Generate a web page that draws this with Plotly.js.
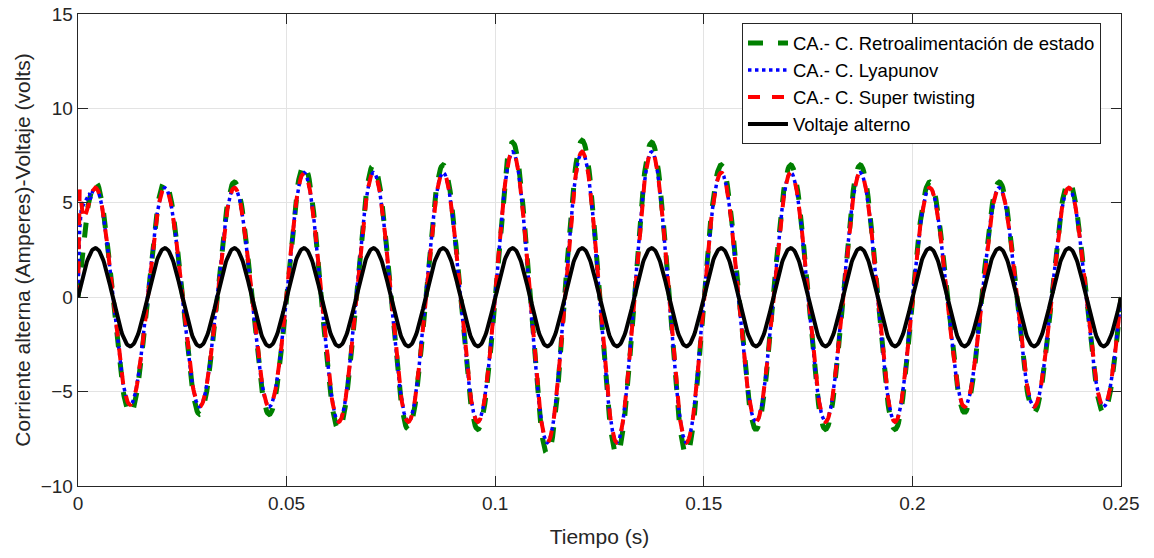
<!DOCTYPE html>
<html>
<head>
<meta charset="utf-8">
<script src="https://cdn.plot.ly/plotly-3.0.1.min.js"></script>
<style>html,body{margin:0;padding:0;background:#fff;}#chart{width:1154px;height:558px;}</style>
</head>
<body>
<div id="chart"></div>
<script>
// Grid frequency (Hz) and time span (s)
const freq = 60;
const tEnd = 0.25;

// Half-cycle peak values (alternating +, -)
const greenPeaks = [6.1,-6.15, 6.1,-6.2, 6.1,-6.2, 7.0,-7.0, 7.0,-7.0, 7.0,-7.0, 8.2,-8.3, 8.3,-8.3, 8.2,-8.3, 7.0,-7.0, 7.0,-7.0, 7.0,-7.0, 6.1,-6.1, 6.1,-6.1, 6.1,-6.1];
const bluePeaks  = [5.8,-5.7, 5.8,-5.8, 5.8,-5.8, 6.6,-6.6, 6.6,-6.6, 6.6,-6.6, 7.7,-7.7, 7.7,-7.7, 7.7,-7.7, 6.6,-6.6, 6.6,-6.6, 6.6,-6.6, 5.8,-5.8, 5.8,-5.8, 5.8,-5.8];
const redPeaks   = [5.8,-5.7, 5.8,-5.8, 5.8,-5.8, 6.6,-6.6, 6.6,-6.6, 6.6,-6.6, 7.7,-7.7, 7.7,-7.7, 7.7,-7.7, 6.6,-6.6, 6.6,-6.6, 6.6,-6.6, 5.8,-5.8, 5.8,-5.8, 5.8,-5.8];
const voltPeaks  = [2.6,-2.6, 2.6,-2.6, 2.6,-2.6, 2.6,-2.6, 2.6,-2.6, 2.6,-2.6, 2.6,-2.6, 2.6,-2.6, 2.6,-2.6, 2.6,-2.6, 2.6,-2.6, 2.6,-2.6, 2.6,-2.6, 2.6,-2.6, 2.6,-2.6];

// Start-up transient samples
const redStartT  = [0, 0.0004, 0.0008, 0.0013, 0.0020, 0.0030];
const redStartV  = [0, 5.7,    5.0,    4.1,    4.5,    5.4];
const blueStartT = [0, 0.0004, 0.0008, 0.0018, 0.0028];
const blueStartV = [0, 3.6,    4.7,    5.1,    5.5];

const names = ["CA.- C. Retroalimentación de estado", "CA.- C. Lyapunov", "CA.- C. Super twisting", "Voltaje alterno"];

const xTicks = [0, 0.05, 0.1, 0.15, 0.2, 0.25];
const xTickText = ["0", "0.05", "0.1", "0.15", "0.2", "0.25"];
const yTicks = [-10, -5, 0, 5, 10, 15];

// Each half-cycle is a sinusoidal lobe scaled to its read peak value
function wave(peaks, startT, startV) {
  const N = 40, half = 1 / (2 * freq);
  const x = [], y = [];
  let tCut = -1;
  if (startT) {
    tCut = startT[startT.length - 1];
    startT.forEach((t, i) => { x.push(t); y.push(startV[i]); });
  }
  peaks.forEach((p, i) => {
    for (let j = 0; j < N; j++) {
      const t = (i + j / N) * half;
      if (t <= tCut) continue;
      x.push(t); y.push(p * Math.sin(Math.PI * j / N));
    }
  });
  x.push(peaks.length * half); y.push(0);
  return {x, y};
}

const g = wave(greenPeaks), b = wave(bluePeaks, blueStartT, blueStartV),
      r = wave(redPeaks, redStartT, redStartV), v = wave(voltPeaks);

const traces = [
  {x: g.x, y: g.y, name: names[0], mode: 'lines', line: {color: '#008000', width: 5, dash: 'dash'}},
  {x: b.x, y: b.y, name: names[1], mode: 'lines', line: {color: '#0000ff', width: 3.5, dash: 'dot'}},
  {x: r.x, y: r.y, name: names[2], mode: 'lines', line: {color: '#ff0000', width: 4, dash: 'dash'}},
  {x: v.x, y: v.y, name: names[3], mode: 'lines', line: {color: '#000000', width: 4}}
];

const axisCommon = {
  showline: true, linecolor: '#262626', linewidth: 1.3, mirror: 'ticks',
  ticks: 'inside', ticklen: 10, tickcolor: '#262626', tickwidth: 1,
  showgrid: true, gridcolor: '#e3e3e3', gridwidth: 1, zeroline: false,
  tickfont: {family: 'Arial, Liberation Sans, sans-serif', size: 19, color: '#262626'}
};

const layout = {
  width: 1154, height: 558,
  margin: {l: 78, r: 33, t: 14, b: 72},
  paper_bgcolor: '#ffffff', plot_bgcolor: '#ffffff',
  showlegend: true,
  xaxis: Object.assign({}, axisCommon, {
    range: [0, tEnd], tickvals: xTicks, ticktext: xTickText,
    title: {text: 'Tiempo (s)', font: {family: 'Arial, Liberation Sans, sans-serif', size: 21, color: '#262626'}, standoff: 16}
  }),
  yaxis: Object.assign({}, axisCommon, {
    range: [-10, 15], tickvals: yTicks,
    title: {text: 'Corriente alterna (Amperes)-Voltaje (volts)', font: {family: 'Arial, Liberation Sans, sans-serif', size: 21, color: '#262626'}, standoff: 4}
  }),
  legend: {
    x: 0.6366, y: 0.98, xanchor: 'left', yanchor: 'top',
    bgcolor: '#ffffff', bordercolor: '#262626', borderwidth: 1,
    font: {family: 'Arial, Liberation Sans, sans-serif', size: 18.5, color: '#000000'},
    itemwidth: 40, tracegroupgap: 0
  }
};

Plotly.newPlot('chart', traces, layout, {displayModeBar: false, staticPlot: true});
</script>
</body>
</html>
